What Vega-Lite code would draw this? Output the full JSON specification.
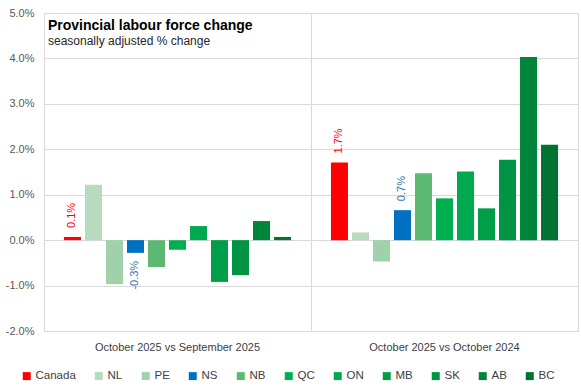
{
  "$schema": "https://vega.github.io/schema/vega-lite/v6.json",
  "width": 534,
  "height": 318,
  "autosize": {"type": "none"},
  "padding": {"left": 44, "top": 13, "right": 3, "bottom": 60},
  "background": "white",
  "title": {
    "text": "Provincial labour force change",
    "subtitle": "seasonally adjusted % change",
    "anchor": "start",
    "frame": "group",
    "offset": -40,
    "dx": 4,
    "font": "Liberation Sans",
    "fontSize": 14,
    "fontWeight": "bold",
    "color": "#000000",
    "subtitleFont": "Liberation Sans",
    "subtitleFontSize": 12,
    "subtitleColor": "#262626",
    "subtitlePadding": 3
  },
  "config": {
    "view": {"stroke": "#D9D9D9"},
    "font": "Liberation Sans"
  },
  "data": {
    "values": [
      {"period": "October 2025 vs September 2025", "region": "Canada", "value": 0.07, "label": "0.1%"},
      {"period": "October 2025 vs September 2025", "region": "NL", "value": 1.22},
      {"period": "October 2025 vs September 2025", "region": "PE", "value": -0.97},
      {"period": "October 2025 vs September 2025", "region": "NS", "value": -0.28, "label": "-0.3%"},
      {"period": "October 2025 vs September 2025", "region": "NB", "value": -0.59},
      {"period": "October 2025 vs September 2025", "region": "QC", "value": -0.21},
      {"period": "October 2025 vs September 2025", "region": "ON", "value": 0.31},
      {"period": "October 2025 vs September 2025", "region": "MB", "value": -0.92},
      {"period": "October 2025 vs September 2025", "region": "SK", "value": -0.77},
      {"period": "October 2025 vs September 2025", "region": "AB", "value": 0.42},
      {"period": "October 2025 vs September 2025", "region": "BC", "value": 0.07},
      {"period": "October 2025 vs October 2024", "region": "Canada", "value": 1.71, "label": "1.7%"},
      {"period": "October 2025 vs October 2024", "region": "NL", "value": 0.17},
      {"period": "October 2025 vs October 2024", "region": "PE", "value": -0.47},
      {"period": "October 2025 vs October 2024", "region": "NS", "value": 0.66, "label": "0.7%"},
      {"period": "October 2025 vs October 2024", "region": "NB", "value": 1.47},
      {"period": "October 2025 vs October 2024", "region": "QC", "value": 0.92},
      {"period": "October 2025 vs October 2024", "region": "ON", "value": 1.51},
      {"period": "October 2025 vs October 2024", "region": "MB", "value": 0.70},
      {"period": "October 2025 vs October 2024", "region": "SK", "value": 1.77},
      {"period": "October 2025 vs October 2024", "region": "AB", "value": 4.03},
      {"period": "October 2025 vs October 2024", "region": "BC", "value": 2.10}
    ]
  },
  "encoding": {
    "x": {
      "field": "period",
      "type": "nominal",
      "sort": ["October 2025 vs September 2025", "October 2025 vs October 2024"],
      "scale": {"paddingInner": 0, "paddingOuter": 0},
      "axis": {
        "title": null,
        "labelAngle": 0,
        "domain": false,
        "ticks": false,
        "grid": true,
        "bandPosition": 0,
        "gridColor": "#D9D9D9",
        "labelPadding": 10,
        "labelFontSize": 11,
        "labelColor": "#404040",
        "labelFont": "Liberation Sans"
      }
    },
    "xOffset": {
      "field": "region",
      "type": "nominal",
      "sort": ["Canada", "NL", "PE", "NS", "NB", "QC", "ON", "MB", "SK", "AB", "BC"],
      "scale": {"paddingInner": 0.19, "paddingOuter": 0.95}
    },
    "y": {
      "field": "value",
      "type": "quantitative",
      "scale": {"domain": [-2, 5], "nice": false},
      "axis": {
        "title": null,
        "values": [-2, -1, 0, 1, 2, 3, 4, 5],
        "labelExpr": "(datum.value < 0 ? '-' : '') + format(abs(datum.value), '.1f') + '%'",
        "domain": false,
        "ticks": false,
        "gridColor": "#D9D9D9",
        "labelPadding": 10,
        "labelFontSize": 11,
        "labelColor": "#595959",
        "labelFont": "Liberation Sans"
      }
    }
  },
  "layer": [
    {
      "mark": {"type": "bar"},
      "encoding": {
        "color": {
          "field": "region",
          "type": "nominal",
          "sort": ["Canada", "NL", "PE", "NS", "NB", "QC", "ON", "MB", "SK", "AB", "BC"],
          "scale": {
            "domain": ["Canada", "NL", "PE", "NS", "NB", "QC", "ON", "MB", "SK", "AB", "BC"],
            "range": ["#FF0000", "#B7DBBF", "#A0D1AA", "#0070C0", "#5DB874", "#00B050", "#00A84F", "#009E48", "#009444", "#00853A", "#007332"]
          },
          "legend": {
            "orient": "none",
            "legendX": -23,
            "legendY": 357,
            "direction": "horizontal",
            "title": null,
            "symbolType": "square",
            "symbolSize": 64,
            "symbolStrokeWidth": 0,
            "labelFontSize": 11.5,
            "labelFont": "Liberation Sans",
            "labelColor": "#404040",
            "columnPadding": 17,
            "labelOffset": 3
          }
        }
      }
    },
    {
      "transform": [{"filter": "isValid(datum.label) && datum.value >= 0"}],
      "mark": {"type": "text", "angle": 270, "align": "left", "baseline": "middle", "dx": 9, "fontSize": 11, "font": "Liberation Sans"},
      "encoding": {
        "text": {"field": "label"},
        "color": {"condition": {"test": "datum.region === 'Canada'", "value": "#FF0000"}, "value": "#2E75B6"}
      }
    },
    {
      "transform": [{"filter": "isValid(datum.label) && datum.value < 0"}],
      "mark": {"type": "text", "angle": 270, "align": "right", "baseline": "middle", "dx": -8, "fontSize": 11, "font": "Liberation Sans"},
      "encoding": {
        "text": {"field": "label"},
        "color": {"condition": {"test": "datum.region === 'Canada'", "value": "#FF0000"}, "value": "#2E75B6"}
      }
    }
  ]
}
